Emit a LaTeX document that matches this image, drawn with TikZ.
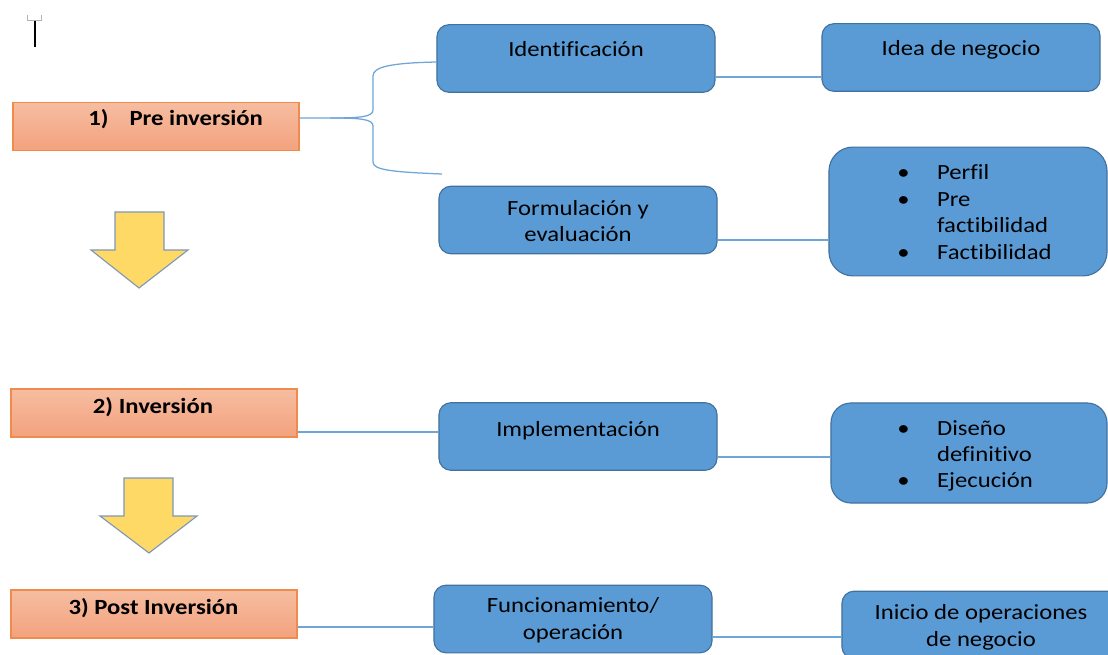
\documentclass[tikz,border=0pt]{standalone}
\usepackage{fontspec}
\setmainfont{Carlito}[FakeStretch=1.14,Ligatures=CommonOff]
\usepackage{tikz}
\definecolor{boxblue}{HTML}{5B9BD5}
\definecolor{boxline}{HTML}{41719C}
\definecolor{linkblue}{HTML}{6FA6DA}
\definecolor{orangetop}{HTML}{F6BDA1}
\definecolor{orangebot}{HTML}{F3A27D}
\definecolor{orangeline}{HTML}{EF8B4D}
\definecolor{arrowfill}{HTML}{FFD966}
\definecolor{arrowline}{HTML}{7F97B8}

\begin{document}
\begin{tikzpicture}[x=0.025cm,y=-0.025cm]
\useasboundingbox (0,0) rectangle (1108,655);
\clip (0,0) rectangle (1108,655);

% cursor mark
\draw[gray!60] (27,15) -- (27,20) -- (41,20) -- (41,15);
\draw[black,thick] (35,21) -- (35,47);

% phases
\begin{scope}[every node/.style={rectangle,draw=orangeline,line width=0.9pt,
                                 top color=orangetop,bottom color=orangebot,
                                 minimum width=7.15cm,minimum height=1.2cm,inner sep=0}]
    \node (P1) at (156,126.5) {};
    \node (P2) at (154,413) {};
    \node (P3) at (154,614) {};
\end{scope}

% steps
\begin{scope}[every node/.style={rectangle,rounded corners=0.3cm,fill=boxblue,
                                 draw=boxline,line width=0.8pt,
                                 minimum width=6.95cm,minimum height=1.69cm,inner sep=0}]
    \node (ident) at (576,58.5) {};
    \node (idea) at (961,57.5) {};
    \node (form) at (578,220) {};
    \node[rounded corners=0.6cm,minimum height=3.22cm] (perfil) at (968,211.5) {};
    \node (impl) at (578,436.5) {};
    \node[rounded corners=0.5cm,minimum width=6.9cm,minimum height=2.5cm] (diseno) at (969,453) {};
    \node (func) at (573,619) {};
    \node (inicio) at (981,625) {};
\end{scope}

% texts
\begin{scope}[every node/.style={inner sep=0,anchor=base,align=center,
                                 font=\fontsize{15.4}{18.8}\selectfont}]
    \node[anchor=base west,font=\fontsize{15.4}{18.8}\selectfont\bfseries] (P1t) at (88,126) {1)\hspace{15pt}Pre inversión};
    \node[font=\fontsize{15.4}{18.8}\selectfont\bfseries] (P2t) at (153,413) {2) Inversión};
    \node[font=\fontsize{15.4}{18.8}\selectfont\bfseries] (P3t) at (153.5,614) {3) Post Inversión};
    \node (identt) at (576,57) {Identificación};
    \node (ideat) at (961,56) {Idea de negocio};
    \node (formt) at (578,242) {Formulación y\\evaluación};
    \node[anchor=base west,align=left] (perfilt) at (897,180)
        {\begin{tabular}[t]{@{}l@{\hspace{19.6pt}}l@{}}
         \textbullet & Perfil\\ \textbullet & Pre\\ & factibilidad\\ \textbullet & Factibilidad
         \end{tabular}};
    \node (implt) at (578,436) {Implementación};
    \node[anchor=base west,align=left] (disenot) at (897,435)
        {\begin{tabular}[t]{@{}l@{\hspace{19.6pt}}l@{}}
         \textbullet & Diseño\\ & definitivo\\ \textbullet & Ejecución
         \end{tabular}};
    \node (funct) at (573,639) {Funcionamiento/\\operación};
    \node (iniciot) at (981,646) {Inicio de operaciones\\de negocio};
\end{scope}

% arrows between phases
\begin{scope}[every path/.style={fill=arrowfill,draw=arrowline,line width=0.8pt,line join=miter}]
    \path (115,212) -- (164,212) -- (164,250) -- (188,250) -- (139,288) -- (91,250) -- (115,250) -- cycle;
    \path (124,478) -- (173,478) -- (173,516) -- (197,516) -- (149,553) -- (100,516) -- (124,516) -- cycle;
\end{scope}

% links
\coordinate (bend) at (442,174);
\begin{scope}[every edge/.style={draw=linkblue,line width=0.9pt}]
    \draw[linkblue,line width=0.9pt] (P1.east |- 0,118) -- (330,118)
        .. controls (360,118) and (373,117) .. (373,110) -- (373,76)
        .. controls (373,67) and (390,63) .. (ident.west |- 0,62);
    \draw[linkblue,line width=0.9pt] (330,118)
        .. controls (360,118) and (373,119) .. (373,126) -- (373,162)
        .. controls (373,170) and (392,172) .. (bend);
    \path (ident.east |- 0,77) edge (idea.west |- 0,77);
    \path (form.east |- 0,240) edge (perfil.west |- 0,240);
    \path (P2.east |- 0,432) edge (impl.west |- 0,432);
    \path (impl.east |- 0,457) edge (diseno.west |- 0,457);
    \path (P3.east |- 0,627) edge (func.west |- 0,627);
    \path (func.east |- 0,637) edge (inicio.west |- 0,637);
\end{scope}
\end{tikzpicture}
\end{document}
